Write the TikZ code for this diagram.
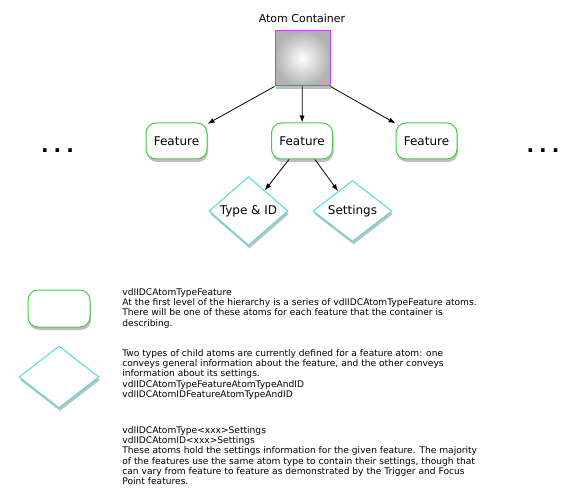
\documentclass[tikz,border=0pt]{standalone}
\usepackage{fontspec}
\setmainfont{DejaVu Sans}
\usetikzlibrary{shapes.geometric,shadows,arrows.meta}
\definecolor{contpurple}{RGB}{185,70,225}
\definecolor{featgreen}{RGB}{70,205,70}
\definecolor{leafcyan}{RGB}{80,220,220}

\begin{document}
\begin{tikzpicture}[x=1pt,y=-1pt,
  shade/.style={drop shadow={shadow xshift=1pt,shadow yshift=-3pt,fill=black,opacity=0.25}},
  cont/.style={rectangle,draw=contpurple,line width=1pt,minimum size=55pt,inner sep=0pt,shading=radial,inner color=white,outer color=black!30,shade},
  feat/.style={rectangle,rounded corners=10pt,draw=featgreen,line width=1pt,fill=white,minimum width=61pt,minimum height=36pt,inner sep=0pt,font=\fontsize{12}{14}\selectfont,shade},
  leaf/.style={diamond,draw=leafcyan,line width=1pt,fill=white,minimum width=79pt,minimum height=61pt,inner sep=0pt,font=\fontsize{12}{14}\selectfont,shade},
  dots/.style={font=\bfseries\fontsize{20}{24}\selectfont,inner sep=0pt},
  desc/.style={anchor=north west,align=left,inner sep=0pt,font=\fontsize{9.1}{10.3}\selectfont},
  >={Latex[length=7pt,width=5pt]}, line width=0.8pt]
\useasboundingbox (0,0) rectangle (581,500);
\node at (302,18) (title) {\fontsize{11}{13}\selectfont Atom Container};
\node[cont] at (302.5,58.5) (C) {};
\node[feat] at (176.5,141) (F1) {Feature};
\node[feat] at (302,141) (F2) {Feature};
\node[feat] at (426.5,141) (F3) {Feature};
\node[leaf] at (248.5,211) (T) {Type \& ID};
\node[leaf] at (352.5,211) (S) {Settings};
\node[dots] at (57.5,150.5) (dotsL) {.\hspace{5pt}.\hspace{5pt}.};
\node[dots] at (543,150.5) (dotsR) {.\hspace{5pt}.\hspace{5pt}.};
\draw[->] (C.south west) -- (F1);
\draw[->] (C) -- (F2);
\draw[->] (C.south east) -- (F3);
\draw[->] ([xshift=-13pt]F2.south) -- (T);
\draw[->] ([xshift=13pt]F2.south) -- (S);
% legend
\node[feat,minimum width=62pt,minimum height=37pt] at (59,308.5) (LF) {};
\node[leaf,minimum width=80pt,minimum height=62pt] at (59,377) (LD) {};
\node[desc] at (122,288) (t1) {vdIIDCAtomTypeFeature\\
At the first level of the hierarchy is a series of vdIIDCAtomTypeFeature atoms.\\
There will be one of these atoms for each feature that the container is\\
describing.};
\node[desc] at (122,349) (t2) {Two types of child atoms are currently defined for a feature atom: one\\
conveys general information about the feature, and the other conveys\\
information about its settings.\\
vdIIDCAtomTypeFeatureAtomTypeAndID\\
vdIIDCAtomIDFeatureAtomTypeAndID};
\node[desc] at (122,426) (t3) {vdIIDCAtomType<xxx>Settings\\
vdIIDCAtomID<xxx>Settings\\
These atoms hold the settings information for the given feature. The majority\\
of the features use the same atom type to contain their settings, though that\\
can vary from feature to feature as demonstrated by the Trigger and Focus\\
Point features.};
\end{tikzpicture}
\end{document}
